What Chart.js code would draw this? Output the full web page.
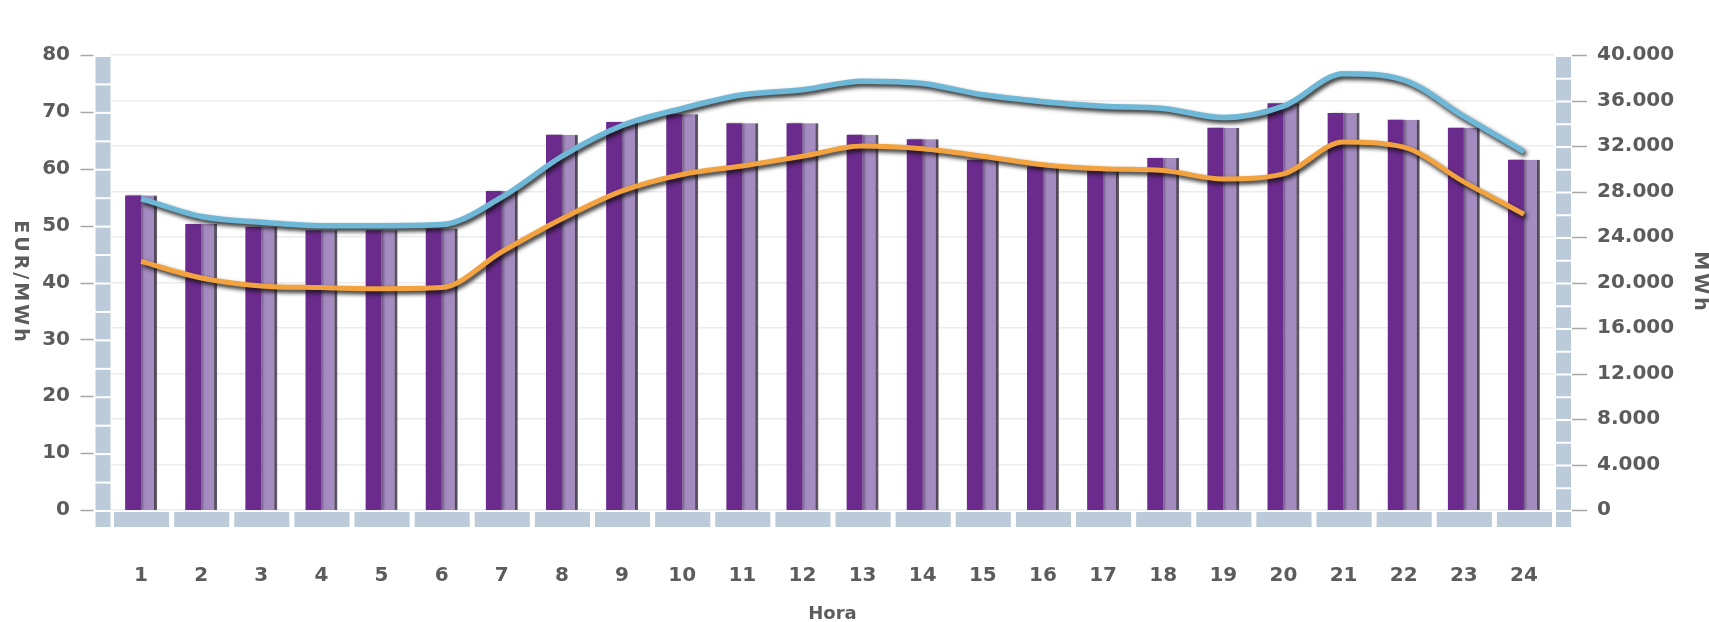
<!DOCTYPE html>
<html>
<head>
<meta charset="utf-8">
<script src="https://cdn.jsdelivr.net/npm/chart.js@4.4.1/dist/chart.umd.min.js"></script>
<style>
  html, body { margin: 0; padding: 0; background: #fff; }
  #chart { display: block; }
</style>
</head>
<body>
<canvas id="chart" width="1709" height="622"></canvas>
<script>
const horas = ['1', '2', '3', '4', '5', '6', '7', '8', '9', '10', '11', '12',
  '13', '14', '15', '16', '17', '18', '19', '20', '21', '22', '23', '24'];

// EUR/MWh
const precioES = [55.3, 50.3, 49.8, 49.2, 49.2, 49.5, 56.1, 66.0, 68.2, 69.6, 68.0, 68.0,
  66.0, 65.2, 61.6, 60.4, 59.6, 61.9, 67.2, 71.5, 69.8, 68.6, 67.2, 61.6];
const precioPT = [55.3, 50.3, 49.8, 49.2, 49.2, 49.5, 56.1, 66.0, 68.2, 69.6, 68.0, 68.0,
  66.0, 65.2, 61.6, 60.4, 59.6, 61.9, 67.2, 71.5, 69.8, 68.6, 67.2, 61.6];

// MWh
const energiaTotal = [27380, 25800, 25300, 25000, 25000, 25100, 27500, 31100, 33800, 35300, 36500, 36950,
  37700, 37500, 36500, 35900, 35500, 35300, 34500, 35500, 38350, 37800, 34600, 31500];
const energiaES = [21850, 20400, 19700, 19550, 19450, 19550, 22700, 25600, 28050, 29500, 30250, 31100,
  32000, 31750, 31100, 30350, 30000, 29850, 29100, 29550, 32350, 31900, 28850, 26000];

const TEXT = '#5c5c5c';
const BAND = '#bccbda';
const FONT = 'DejaVu Sans';

const fmtMiles = (v) => String(v).replace(/\B(?=(\d{3})+(?!\d))/g, '.');

// shadows under the lines and beside the bars
const shadows = {
  id: 'shadows',
  beforeDatasetDraw(chart, args) {
    const { ctx } = chart;
    const type = chart.data.datasets[args.index].type;
    ctx.save();
    if (type === 'line') {
      ctx.shadowColor = 'rgba(15,15,15,0.9)';
      ctx.shadowOffsetX = 2;
      ctx.shadowOffsetY = 3;
      ctx.shadowBlur = 4;
    } else {
      ctx.shadowColor = 'rgba(0,0,0,0.3)';
      ctx.shadowOffsetX = 2;
      ctx.shadowOffsetY = 0;
      ctx.shadowBlur = 2;
    }
  },
  afterDatasetDraw(chart) {
    chart.ctx.restore();
  },
};

// segmented axis bands, tick marks and rotated axis titles
const bands = {
  id: 'bands',
  beforeDatasetsDraw(chart) {
    const { ctx, chartArea: area, scales } = chart;
    const yL = scales.y, yR = scales.y1, x = scales.x;
    ctx.save();
    ctx.fillStyle = BAND;
    const bandW = 15;
    const lx = area.left - bandW - 0.5;
    const rx = area.right + 2;
    for (let v = 0; v < 80; v += 5) {
      const top = yL.getPixelForValue(v + 5) + 2;
      const bot = yL.getPixelForValue(v);
      ctx.fillRect(lx, top, bandW, bot - top);
    }
    for (let v = 0; v < 40000; v += 2000) {
      const top = yR.getPixelForValue(v + 2000) + 2;
      const bot = yR.getPixelForValue(v);
      ctx.fillRect(rx, top, bandW, bot - top);
    }
    const by = area.bottom + 2;
    const bh = 15;
    ctx.fillRect(lx, by, bandW, bh);
    ctx.fillRect(rx, by, bandW, bh);
    const step = x.getPixelForValue(1) - x.getPixelForValue(0);
    horas.forEach((h, i) => {
      const c = x.getPixelForValue(i);
      ctx.fillRect(c - step / 2 + 3, by, step - 5, bh);
    });

    // tick marks
    ctx.strokeStyle = '#a8a8a8';
    ctx.lineWidth = 1.5;
    ctx.beginPath();
    for (let v = 0; v <= 80; v += 10) {
      const py = Math.round(yL.getPixelForValue(v)) + 0.5;
      ctx.moveTo(lx - 15, py);
      ctx.lineTo(lx - 2, py);
    }
    for (let v = 0; v <= 40000; v += 4000) {
      const py = Math.round(yR.getPixelForValue(v)) + 0.5;
      ctx.moveTo(rx + bandW + 1, py);
      ctx.lineTo(rx + bandW + 16, py);
    }
    ctx.stroke();

    // axis titles, reading top to bottom
    const midY = (area.top + area.bottom) / 2;
    ctx.fillStyle = TEXT;
    ctx.font = `bold 19px "${FONT}"`;
    ctx.textAlign = 'center';
    ctx.textBaseline = 'middle';
    ctx.letterSpacing = '3px';
    ctx.save();
    ctx.translate(20, midY);
    ctx.rotate(Math.PI / 2);
    ctx.fillText('EUR/MWh', 0, 0);
    ctx.restore();
    ctx.save();
    ctx.translate(1700, midY);
    ctx.rotate(Math.PI / 2);
    ctx.fillText('MWh', 0, 0);
    ctx.restore();
    ctx.restore();
  },
};

const tickFont = { family: FONT, size: 20, weight: 'bold' };

new Chart(document.getElementById('chart'), {
  data: {
    labels: horas,
    datasets: [
      {
        type: 'line',
        label: 'Energía total',
        data: energiaTotal,
        yAxisID: 'y1',
        borderColor: '#6fb7d6',
        borderWidth: 5.5,
        pointRadius: 0,
        cubicInterpolationMode: 'monotone',
        order: 0,
      },
      {
        type: 'line',
        label: 'Energía España',
        data: energiaES,
        yAxisID: 'y1',
        borderColor: '#f2a23e',
        borderWidth: 5,
        pointRadius: 0,
        cubicInterpolationMode: 'monotone',
        order: 1,
      },
      {
        type: 'bar',
        label: 'Precio España',
        data: precioES,
        yAxisID: 'y',
        backgroundColor: '#6a2b8c',
        borderWidth: 0,
        categoryPercentage: 0.53,
        barPercentage: 1,
        order: 2,
      },
      {
        type: 'bar',
        label: 'Precio Portugal',
        data: precioPT,
        yAxisID: 'y',
        backgroundColor: '#a48bc0',
        borderColor: '#6e6378',
        borderWidth: { top: 0, right: 3, bottom: 0, left: 0 },
        borderSkipped: false,
        categoryPercentage: 0.53,
        barPercentage: 1,
        order: 2,
      },
    ],
  },
  options: {
    responsive: false,
    devicePixelRatio: 1,
    animation: false,
    layout: { padding: { top: 25, left: 0, right: 0, bottom: 0 } },
    plugins: {
      legend: { display: false },
      tooltip: { enabled: false },
    },
    scales: {
      x: {
        grid: { display: false, drawTicks: false },
        border: { display: false },
        ticks: {
          color: TEXT,
          font: tickFont,
          padding: 54,
          maxRotation: 0,
        },
        title: {
          display: true,
          text: 'Hora',
          color: TEXT,
          font: { family: FONT, size: 18, weight: 'bold' },
          padding: { top: 0, bottom: -3 },
        },
        afterFit(scale) { scale.height = 112; },
      },
      y: {
        position: 'left',
        min: 0,
        max: 80,
        grid: { display: false, drawTicks: false },
        border: { display: false },
        ticks: {
          stepSize: 10,
          color: TEXT,
          font: tickFont,
          padding: 41,
        },
        afterFit(scale) { scale.width = 111; },
      },
      y1: {
        position: 'right',
        min: 0,
        max: 40000,
        grid: { color: '#ececec', lineWidth: 1.5, drawTicks: false },
        border: { display: false },
        ticks: {
          stepSize: 4000,
          color: TEXT,
          font: tickFont,
          padding: 43,
          callback: (v) => fmtMiles(v),
        },
        afterFit(scale) { scale.width = 155; },
      },
    },
  },
  plugins: [bands, shadows],
});
</script>
</body>
</html>
